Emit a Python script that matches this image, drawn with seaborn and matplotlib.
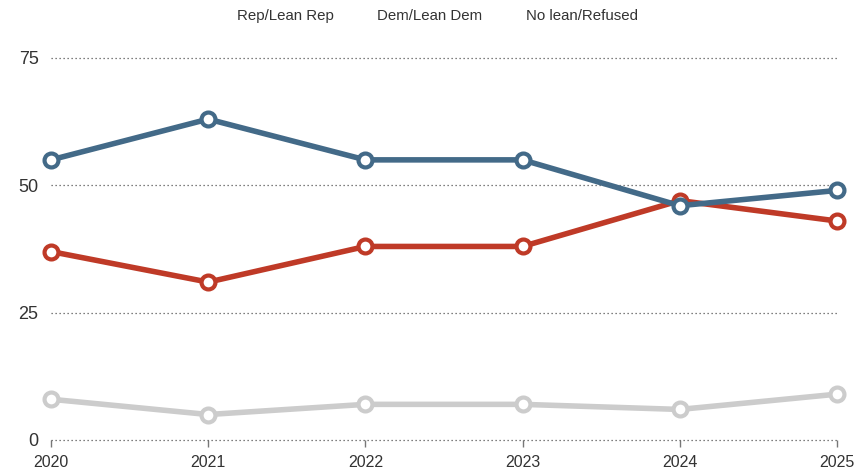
import matplotlib
matplotlib.use("Agg")
import matplotlib.pyplot as plt
import seaborn as sns
import pandas as pd

years = [2020, 2021, 2022, 2023, 2024, 2025]
rep_lean_rep = [37, 31, 38, 38, 47, 43]
dem_lean_dem = [55, 63, 55, 55, 46, 49]
no_lean_refused = [8, 5, 7, 7, 6, 9]
series_names = ["Rep/Lean Rep", "Dem/Lean Dem", "No lean/Refused"]
y_ticks = [0, 25, 50, 75]

colors = {
    "Rep/Lean Rep": "#bf3a27",
    "Dem/Lean Dem": "#436a88",
    "No lean/Refused": "#cccccc",
}

df = pd.concat([
    pd.DataFrame({"year": years, "value": rep_lean_rep, "group": "Rep/Lean Rep"}),
    pd.DataFrame({"year": years, "value": dem_lean_dem, "group": "Dem/Lean Dem"}),
    pd.DataFrame({"year": years, "value": no_lean_refused, "group": "No lean/Refused"}),
])

sns.set_theme(style="white")
plt.rcParams["font.family"] = ["Liberation Sans", "DejaVu Sans"]

fig = plt.figure(figsize=(8.6, 4.75), dpi=100)
ax = fig.add_axes([51 / 860, 35 / 475, 786 / 860, 382 / 475])

# draw order: gray first, then red, then blue on top
sns.lineplot(
    data=df, x="year", y="value", hue="group",
    hue_order=["No lean/Refused", "Rep/Lean Rep", "Dem/Lean Dem"],
    palette=colors, linewidth=4, marker="o", markersize=10,
    markeredgewidth=3, legend=False, ax=ax,
)
for line in ax.lines:
    line.set_markeredgecolor(line.get_color())
    line.set_markerfacecolor("white")
    line.set_solid_capstyle("butt")
    line.set_clip_on(False)
    line.set_zorder(3)

ax.set_xlim(2020, 2025)
ax.set_ylim(0, 75)

for y in y_ticks:
    ax.axhline(y, color="#555555", linewidth=0.9, linestyle=(0, (1, 2.2)),
               zorder=1, clip_on=False)

for s in ax.spines.values():
    s.set_visible(False)

ax.set_yticks(y_ticks)
ax.set_yticklabels([str(v) for v in y_ticks], fontsize=13, color="#333333")
ax.tick_params(axis="y", length=0, pad=9)
ax.set_xticks(years)
ax.set_xticklabels([str(v) for v in years], fontsize=11.5, color="#333333")
ax.tick_params(axis="x", length=5, width=1, color="#777777", pad=6, direction="out", bottom=True)
ax.set_xlabel("")
ax.set_ylabel("")

legend_x = [285, 430, 582]
for name, xp in zip(series_names, legend_x):
    fig.text(xp / 860, 1 - 16 / 475, name, ha="center", va="center",
             fontsize=10.8, color="#333333")

fig.savefig("out.png", dpi=100)
